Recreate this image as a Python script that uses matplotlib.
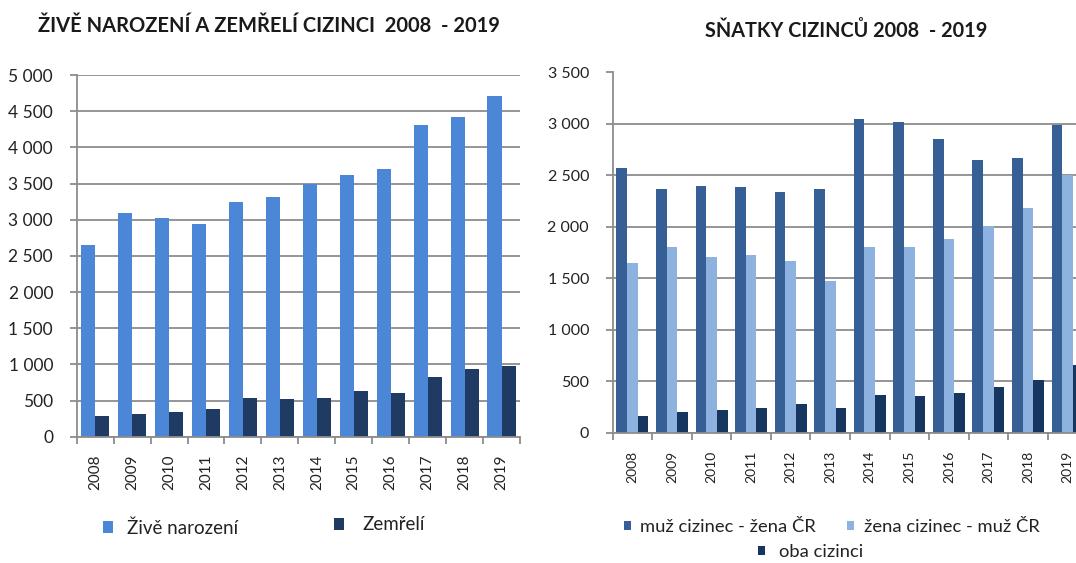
import numpy as np
import matplotlib
matplotlib.use("Agg")
import matplotlib.pyplot as plt
from matplotlib.patches import Patch
from matplotlib.ticker import FuncFormatter, MultipleLocator, FixedLocator

plt.rcParams['font.family'] = ['Lato', 'DejaVu Sans']

# ----- Data -----
years = [str(y) for y in range(2008, 2020)]

# left chart: births / deaths of foreigners
zive_narozeni = [2650, 3097, 3028, 2940, 3249, 3318, 3493, 3613, 3705, 4304, 4419, 4714]
zemreli = [290, 313, 336, 382, 539, 516, 539, 631, 608, 829, 940, 982]

# right chart: marriages of foreigners
muz_cizinec = [2572, 2368, 2400, 2384, 2336, 2368, 3047, 3015, 2857, 2653, 2669, 2992]
zena_cizinec = [1647, 1802, 1705, 1724, 1663, 1472, 1802, 1802, 1880, 2003, 2184, 2507]
oba_cizinci = [165, 197, 214, 243, 275, 243, 369, 353, 385, 446, 511, 654]

# ----- Colours -----
c_light = "#4B87D6"
c_dark = "#1F3B63"
c_mid = "#365F96"
c_pale = "#8DB2E0"
c_navy = "#17365F"
grid_c = "#8C8C8C"

W, H = 1076, 563
fig = plt.figure(figsize=(W / 100, H / 100), dpi=100)


def px_axes(x0, x1, ytop, ybot):
    return fig.add_axes([x0 / W, 1 - ybot / H, (x1 - x0) / W, (ybot - ytop) / H])


def thousands(v, pos):
    return f"{int(v):,}".replace(",", " ")


def style_axes(ax, ymax, ylab_size, xlab_size):
    ax.set_xlim(-0.5, len(years) - 0.5)
    ax.set_ylim(0, ymax)
    ax.yaxis.set_major_locator(MultipleLocator(500))
    ax.yaxis.set_major_formatter(FuncFormatter(thousands))
    ax.grid(axis='y', color=grid_c, lw=1.3)
    ax.set_axisbelow(True)
    for s in ['top', 'right']:
        ax.spines[s].set_visible(False)
    for s in ['left', 'bottom']:
        ax.spines[s].set_color(grid_c)
        ax.spines[s].set_linewidth(1.3)
    ax.set_xticks(np.arange(len(years)))
    ax.set_xticklabels(years, rotation=90)
    ax.xaxis.set_minor_locator(FixedLocator(np.arange(len(years) + 1) - 0.5))
    ax.tick_params(axis='x', which='major', length=0, pad=13, labelsize=xlab_size,
                   labelcolor='#222222')
    ax.tick_params(axis='x', which='minor', length=5, color=grid_c, width=1.3)
    ax.tick_params(axis='y', length=5, color=grid_c, width=1.3, pad=12,
                   labelsize=ylab_size, labelcolor='#222222')


# ----- Left: births and deaths -----
ax1 = px_axes(76.7, 520, 75, 436.7)
x = np.arange(len(years))
ax1.bar(x - 0.19, zive_narozeni, width=0.38, color=c_light)
ax1.bar(x + 0.19, zemreli, width=0.38, color=c_dark)
style_axes(ax1, 5000, 12.5, 11)

fig.text(269 / W, 1 - 26 / H, "ŽIVĚ NAROZENÍ A ZEMŘELÍ CIZINCI  2008  - 2019",
         ha='center', va='center', fontsize=14.5, fontweight='bold', color='#1a1a1a')

# ----- Right: marriages (axes runs past the right edge as in the source) -----
ax2 = px_axes(612.7, 1087.3, 72.5, 432.5)
ax2.bar(x - 0.27, muz_cizinec, width=0.27, color=c_mid)
ax2.bar(x, zena_cizinec, width=0.27, color=c_pale)
ax2.bar(x + 0.27, oba_cizinci, width=0.27, color=c_navy)
style_axes(ax2, 3500, 11.5, 10)

fig.text(846 / W, 1 - 31 / H, "SŇATKY CIZINCŮ 2008  - 2019",
         ha='center', va='center', fontsize=14.3, fontweight='bold', color='#1a1a1a')


# ----- Legends (one key per call, placed in pixel coords) -----
def key(color, label, xp, yp, size, hs, tp):
    fig.legend(handles=[Patch(facecolor=color, edgecolor='none')], labels=[label],
               loc='center left', bbox_to_anchor=(xp / W, 1 - yp / H),
               frameon=False, borderpad=0, borderaxespad=0, handlelength=hs,
               handleheight=hs, handletextpad=tp, fontsize=size,
               labelcolor='#222222')


key(c_light, "Živě narození", 103, 528, 13.5, 0.55, 0.75)
key(c_dark, "Zemřelí", 334, 525, 13.5, 0.55, 0.95)
key(c_mid, "muž cizinec - žena ČR", 624, 527, 13.2, 0.4, 0.5)
key(c_pale, "žena cizinec - muž ČR", 847, 527, 13.2, 0.4, 0.55)
key(c_navy, "oba cizinci", 758, 552, 13.2, 0.4, 0.75)

fig.savefig("out.png", dpi=100)
